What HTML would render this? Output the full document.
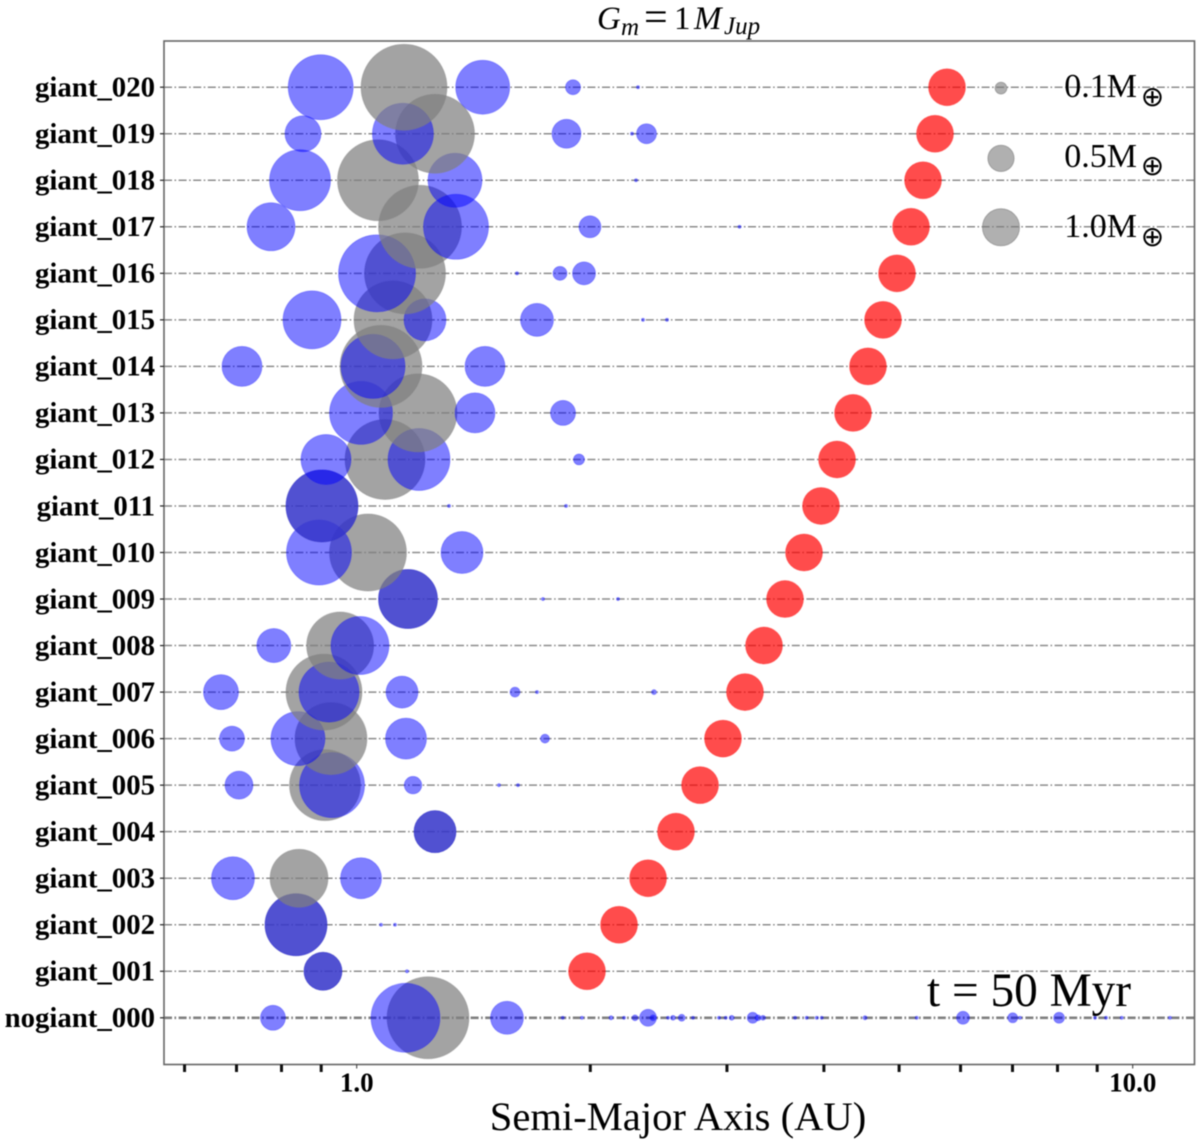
<!DOCTYPE html>
<html lang="en">
<head>
<meta charset="utf-8">
<title>Semi-Major Axis Chart</title>
<style>
  html, body { margin: 0; padding: 0; background: #fff; }
  body { width: 1200px; height: 1143px; overflow: hidden; }
  svg { display: block; filter: blur(0.45px); }
  text { font-family: "Liberation Serif", serif; fill: #000; }
</style>
</head>
<body>
<svg id="chart" width="1200" height="1143" viewBox="0 0 1200 1143" xmlns="http://www.w3.org/2000/svg">
  <g id="grid"></g>
  <g id="marks"></g>
  <g id="legend">
    <text x="1137" y="97" font-size="34" text-anchor="end">0.1M</text>
    <text x="1152.5" y="106" font-size="28" text-anchor="middle" style="font-family:'DejaVu Sans',sans-serif">⊕</text>
    <text x="1137" y="167" font-size="34" text-anchor="end">0.5M</text>
    <text x="1152.5" y="175" font-size="28" text-anchor="middle" style="font-family:'DejaVu Sans',sans-serif">⊕</text>
    <text x="1137" y="237" font-size="34" text-anchor="end">1.0M</text>
    <text x="1152.5" y="246" font-size="28" text-anchor="middle" style="font-family:'DejaVu Sans',sans-serif">⊕</text>
  </g>
  <rect x="164" y="41" width="1030.5" height="1023.5" fill="none" stroke="#666" stroke-width="1.6"></rect>
  <g id="axes"></g>
  <g>
    <text x="597" y="29" font-size="33" font-style="italic">G</text>
    <text x="621" y="35" font-size="25" font-style="italic">m</text>
    <text x="644" y="31" font-size="42">=</text>
    <text x="674" y="29" font-size="33">1</text>
    <text x="694" y="29" font-size="33" font-style="italic">M</text>
    <text x="724" y="34" font-size="25" font-style="italic">Jup</text>
  </g>
  <text x="927" y="1006" font-size="47.3">t = 50 Myr</text>
  <text x="678" y="1130" font-size="40.6" text-anchor="middle">Semi-Major Axis (AU)</text>
</svg>
<script>
const rowLabels = ["nogiant_000","giant_001","giant_002","giant_003","giant_004","giant_005","giant_006","giant_007","giant_008","giant_009","giant_010","giant_011","giant_012","giant_013","giant_014","giant_015","giant_016","giant_017","giant_018","giant_019","giant_020"];
const xMajorTicks = [1, 10];
const xMajorLabels = ["1.0", "10.0"];
const xMinorTicks = [0.6, 0.7, 0.8, 0.9, 2, 3, 4, 5, 6, 7, 8, 9];

// Giant planet semi-major axis per row (AU); row 0 has no giant.
const giantAxis = [null,1.9805,2.178,2.374,2.579,2.770,2.965,3.165,3.349,3.564,3.771,3.966,4.159,4.361,4.559,4.767,4.969,5.180,5.368,5.562,5.764];
const giantMass = 1.0;

// Initial embryo (gray) per row: semi-major axis (AU) and mass (Earth masses).
const grayAxis = [1.2356,0.9048,0.8352,0.8427,1.2616,0.9102,0.9265,0.9075,0.9520,1.1644,1.0341,0.9021,1.0876,1.1995,1.0748,1.1137,1.1541,1.2066,1.0652,1.2616,1.1507];
const grayMass = [4.912,1.055,2.808,2.457,1.289,3.680,3.787,4.220,3.280,2.540,4.331,3.787,4.675,4.444,4.912,4.444,4.793,5.032,4.793,4.559,5.403];

// Final planets (blue) per row: semi-major axes (AU).
const blueAxis = [
  [0.78,1.1558,1.562,1.843,1.951,2.1268,2.2103,2.2836,2.374,2.409,2.5186,2.5564,2.623,2.7126,2.930,2.989,3.0426,3.238,3.290,3.339,3.672,3.801,3.916,3.974,4.519,5.268,6.044,7.005,7.158,8.037,8.942,9.239,9.679,11.17],
  [0.9048,1.161],
  [0.8352,1.0748,1.1203],
  [0.6927,1.0129],
  [1.2616],
  [0.7052,0.9295,1.1819,1.5253,1.6138],
  [0.6907,0.8400,1.1575,1.7484],
  [0.6685,0.9211,1.1439,1.5995,1.7074,2.416],
  [0.7820,1.0098],
  [1.1644,1.738,2.1715],
  [0.8941,1.3668],
  [0.9021,1.315,1.861],
  [0.9129,1.2031,1.934],
  [1.0129,1.4205,1.8445],
  [0.7115,1.0496,1.4633],
  [0.8758,1.2247,1.7074,2.3385,2.511],
  [1.0621,1.609,1.828,1.963],
  [0.7755,1.3427,1.998,3.114],
  [0.8452,1.3387,2.2905],
  [0.8527,1.147,1.8636,2.2635,2.363],
  [0.8987,1.4533,1.900,2.304]
];
// Final planets (blue) per row: masses (Earth masses).
const blueMass = [
  [0.457,3.478,0.795,0.007,0.007,0.012,0.007,0.026,0.211,0.026,0.007,0.018,0.036,0.007,0.007,0.007,0.018,0.088,0.026,0.018,0.007,0.007,0.007,0.007,0.012,0.007,0.123,0.073,0.007,0.088,0.007,0.007,0.007,0.007],
  [1.055,0.007],
  [2.808,0.007,0.007],
  [1.351,1.228],
  [1.289],
  [0.573,3.086,0.224,0.007,0.007],
  [0.457,2.13,1.228,0.059],
  [0.895,2.63,0.748,0.073,0.007,0.018],
  [0.845,2.457],
  [2.54,0.007,0.007],
  [3.086,1.289],
  [3.787,0.007,0.007],
  [1.826,2.808,0.088],
  [2.899,1.169,0.457],
  [1.169,2.992,1.169],
  [2.457,1.289,0.795,0.007,0.007],
  [4.331,0.007,0.143,0.386],
  [1.683,3.086,0.354,0.007],
  [2.718,2.13,0.007],
  [0.947,2.718,0.614,0.007,0.292],
  [3.086,2.13,0.164,0.007]
];

const legendMasses = [0.1, 0.5, 1.0];
const legendRows = [19.98, 18.47, 16.99];
const legendAxis = 6.765;

const SVG_NS = "http://www.w3.org/2000/svg";
function xScale(a) { return 356.7 + 776 * Math.log10(a); }
function yScale(r) { return 1017.8 - 46.53 * r; }
function diameter(m) { return 37 * Math.sqrt(m); }
function make(tag, parent, attrs) {
  const el = document.createElementNS(SVG_NS, tag);
  for (const k in attrs) el.setAttribute(k, attrs[k]);
  parent.appendChild(el);
  return el;
}
const gridG = document.getElementById("grid");
const marksG = document.getElementById("marks");
const axesG = document.getElementById("axes");
const legendG = document.getElementById("legend");

rowLabels.forEach(function (label, r) {
  const y = yScale(r);
  const line = make("line", gridG, {x1: 164, x2: 1194, y1: y, y2: y, stroke: r === 0 ? "#808080" : "#8c8c8c", "stroke-width": r === 0 ? 2.6 : 1.5, "stroke-dasharray": "8 2.5 1.6 2.5"});
  
  

  const tick = make("line", axesG, {x1: 160, x2: 164, y1: y, y2: y, stroke: "#222", "stroke-width": 1.2});
  
  

  const text = make("text", axesG, {x: 155, y: y + 9.3, "text-anchor": "end", "font-size": 28.8, "font-weight": "bold"});
  text.textContent = label;
  
  
});

rowLabels.forEach(function (label, r) {
  const y = yScale(r);
  const gray = make("circle", marksG, {cx: xScale(grayAxis[r]), cy: y, r: diameter(grayMass[r]) / 2, fill: "rgb(128,128,128)", "fill-opacity": 0.72, stroke: "rgb(128,128,128)", "stroke-opacity": 0.35, "stroke-width": 1});
  
  

  blueAxis[r].forEach(function (a, i) {
    const blue = make("circle", marksG, {cx: xScale(a), cy: y, r: diameter(blueMass[r][i]) / 2, fill: "rgb(0,0,255)", "fill-opacity": 0.5, stroke: "rgb(0,0,255)", "stroke-opacity": 0.25, "stroke-width": 1});
    
    
  });

  if (giantAxis[r] !== null) {
    const giant = make("circle", marksG, {cx: xScale(giantAxis[r]), cy: y, r: diameter(giantMass) / 2, fill: "rgb(255,0,0)", "fill-opacity": 0.7, stroke: "rgb(255,0,0)", "stroke-opacity": 0.25, "stroke-width": 1});
    
    
  }
});

legendMasses.forEach(function (m, i) {
  const c = make("circle", legendG, {cx: xScale(legendAxis), cy: yScale(legendRows[i]), r: diameter(m) / 2, fill: "rgb(128,128,128)", "fill-opacity": 0.62, stroke: "rgb(128,128,128)", "stroke-opacity": 0.6, "stroke-width": 1});
  
  
});

xMinorTicks.forEach(function (v) {
  const t = make("line", axesG, {x1: xScale(v), x2: xScale(v), y1: 1064.5, y2: 1072, stroke: "#111", "stroke-width": 3});
  
  
});
xMajorTicks.forEach(function (v, i) {
  const t = make("line", axesG, {x1: xScale(v), x2: xScale(v), y1: 1064.5, y2: 1068.5, stroke: "#333", "stroke-width": 1});
  
  
  const lbl = make("text", axesG, {x: xScale(v), y: 1091.5, "text-anchor": "middle", "font-size": 27, "font-weight": "bold"});
  lbl.textContent = xMajorLabels[i];
  
  
});
</script>
</body>
</html>
